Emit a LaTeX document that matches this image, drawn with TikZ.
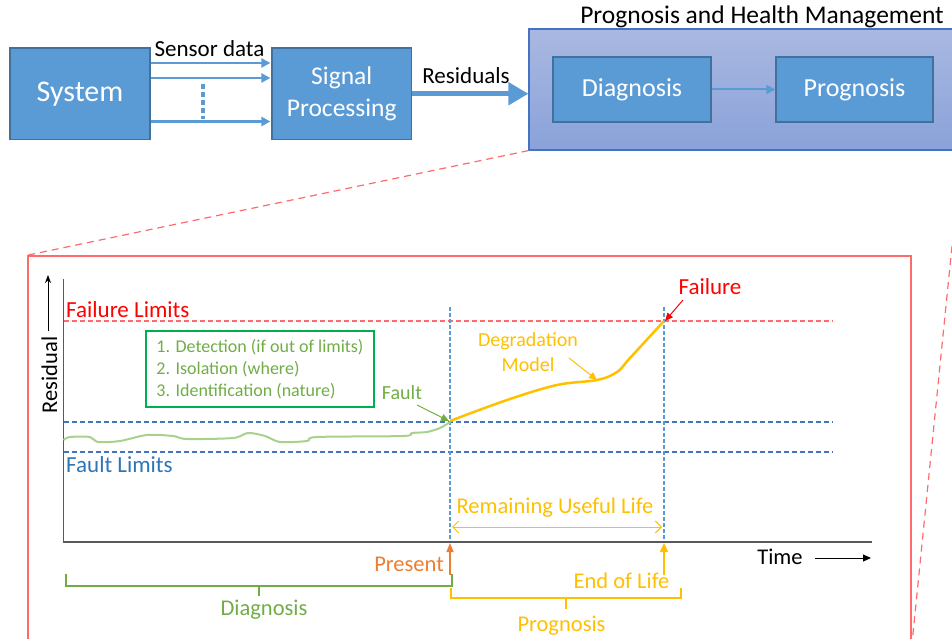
\documentclass[tikz,border=0pt]{standalone}
\usepackage{fontspec}
\setmainfont{Carlito}
\usetikzlibrary{arrows.meta,shadings}
\definecolor{boxfill}{HTML}{5B9BD5}
\definecolor{boxline}{HTML}{41719C}
\definecolor{phmtop}{HTML}{A9B8E1}
\definecolor{phmbot}{HTML}{8AA2D9}
\definecolor{phmline}{HTML}{4472C4}
\definecolor{redline}{HTML}{FF6B6B}
\definecolor{redtxt}{HTML}{FF0000}
\definecolor{grn}{HTML}{70AD47}
\definecolor{grnbox}{HTML}{00B050}
\definecolor{grnline}{HTML}{A9D18E}
\definecolor{yel}{HTML}{FFC000}
\definecolor{org}{HTML}{ED7D31}
\definecolor{bluetxt}{HTML}{2E75B6}
\definecolor{bluedash}{HTML}{4472C4}
\definecolor{axisc}{HTML}{595959}
\newcommand\fsz[2]{\fontsize{#1}{#2}\selectfont}
\tikzset{
  bbox/.style={draw=boxline, fill=boxfill, line width=1.2pt, text=white, inner sep=0pt},
  lbl/.style={inner sep=0pt, font=\fsz{22.5}{27}},
  sarrow/.style={boxfill, line width=2.5pt, -{Triangle[length=9pt,width=9pt]}, shorten >=1pt},
  hdash/.style={line width=1.2pt, dash pattern=on 5pt off 3pt},
  vdash/.style={boxfill, line width=2pt, dash pattern=on 4pt off 2pt},
  thinarrow/.style={line width=1pt, -{Triangle[length=8pt,width=7pt]}},
  bracket/.style={line width=2pt},
}
\begin{document}
\begin{tikzpicture}[x=1pt,y=-1pt]
\useasboundingbox (0,0) rectangle (952,639);

% ---------- top row ----------
\node[bbox, minimum width=140pt, minimum height=91.5pt, font=\fsz{30}{36}] (sys) at (80,93.75) {System};
\node[bbox, minimum width=139.5pt, minimum height=91.5pt, align=center, font=\fsz{25.5}{32}] (sig) at (341.75,93.75) {Signal\\Processing};
\node[lbl, font=\fsz{23}{28}] (sd) at (209.5,49) {Sensor data};
\node[lbl, font=\fsz{23}{28}] (resl) at (466,76) {Residuals};

\coordinate (y1) at (0,63);
\coordinate (y2) at (0,78);
\coordinate (y3) at (0,121.5);
\draw[sarrow] (sys.east |- y1) -- (sig.west |- y1);
\draw[sarrow] (sys.east |- y2) -- (sig.west |- y2);
\draw[sarrow] (sys.east |- y3) -- (sig.west |- y3);
\draw[boxfill, line width=4pt, dash pattern=on 5pt off 3pt] (202.5,84) -- (202.5,119);

\node[draw=phmline, line width=1.2pt, top color=phmtop, bottom color=phmbot, minimum width=432pt, minimum height=121pt, inner sep=0pt] (phm) at (745,89.5) {};
\node[lbl, font=\fsz{25.5}{30}] (title) at (762,17) {Prognosis and Health Management};
\node[bbox, minimum width=158pt, minimum height=65pt, font=\fsz{26}{31}] (diag) at (632,89.5) {Diagnosis};
\node[bbox, minimum width=157pt, minimum height=65pt, font=\fsz{26}{31}] (prog) at (854.5,89.5) {Prognosis};
\draw[boxfill, line width=2pt, -{Triangle[length=9pt,width=9pt]}] (diag) -- (prog);
\draw[boxfill, line width=5pt, -{Triangle[length=20pt,width=22pt]}] (sig.east) -- (sig.east -| phm.west);

% ---------- zoom box ----------
\node[draw=redline, line width=1.5pt, minimum width=883pt, minimum height=389pt, inner sep=0pt] (zb) at (469.5,450.5) {};
\draw[redline, line width=1.2pt, dash pattern=on 7pt off 5pt] (phm.south west) -- (zb.north west);
\draw[redline, line width=1.2pt, dash pattern=on 7pt off 5pt] (phm.south east) -- (zb.south east);

% ---------- plot ----------
\coordinate (O) at (63.5,542);
\coordinate (ytop) at (63.5,279);
\coordinate (xend) at (872,542);

\draw[redline, hdash] (63.5,321) -- (833,321);
\draw[bluedash, hdash] (63.5,422) -- (833,422);
\draw[bluedash, hdash] (63.5,452) -- (833,452);
\draw[vdash] (450,307) -- (450,542);
\draw[vdash] (664,307) -- (664,542);

\draw[axisc, line width=1.5pt] (ytop) -- (O) -- (xend);

\node[lbl, rotate=90] (res) at (49.5,375) {Residual};
\coordinate (rbot) at (48,331);
\coordinate (rtop) at (48,275);
\draw[thinarrow, -{Stealth[length=8pt,width=6pt]}] (rbot) -- (rtop);

\node[lbl, anchor=west, text=redtxt, font=\fsz{23}{28}] (fl) at (66,310) {Failure Limits};
\node[lbl, anchor=west, text=bluetxt, font=\fsz{23}{28}] (fal) at (66,465) {Fault Limits};

\node[draw=grnbox, line width=1.2pt, minimum width=228pt, minimum height=76pt, inner sep=0pt, align=left, text=grn, font=\fsz{18}{22}] (gbox) at (260,369) {1. Detection (if out of limits)\\2. Isolation (where)\\3. Identification (nature)};

\draw[grnline, line width=2pt] plot[smooth, tension=0.5] coordinates {(63.5,440) (70,437) (90,437) (98,442) (120,441) (147,435) (173,436) (187,439) (233,438) (248,433) (265,436) (280,442) (307,441) (317,437) (403,436) (412,433) (427,432) (440,428) (450,422)};
\draw[yel, line width=2.5pt] plot[smooth, tension=0.6] coordinates {(450,421) (507,400) (557,385) (597,380) (617,372) (630,358) (664,321)};

\node[lbl, text=grn, font=\fsz{20}{24}] (fault) at (402,393) {Fault};
\coordinate (fs) at (417,405);
\coordinate (fp) at (449,421);
\draw[grn, thinarrow] (fs) -- (fp);

\node[lbl, text=yel, align=center, font=\fsz{20}{25}] (deg) at (528,352.5) {Degradation\\Model};
\coordinate (ds) at (569,358);
\coordinate (dp) at (597,380);
\draw[yel, thinarrow] (ds) -- (dp);

\node[lbl, text=redtxt, font=\fsz{23}{28}] (fail) at (710,287) {Failure};
\coordinate (fas) at (683,300);
\coordinate (fap) at (665,321);
\draw[redtxt, thinarrow] (fas) -- (fap);

\node[lbl, text=yel] (rul) at (555,508) {Remaining Useful Life};
\coordinate (ra) at (452,527);
\coordinate (rb) at (662,527);
\draw[yel, line width=1pt, {Straight Barb[length=6pt,width=12pt]}-{Straight Barb[length=6pt,width=12pt]}] (ra) -- (rb);

\node[lbl] (time) at (780,557) {Time};
\coordinate (ta) at (815,558);
\coordinate (tb) at (871,558);
\draw[thinarrow] (ta) -- (tb);

\node[lbl, text=org] (pres) at (409,564.5) {Present};
\coordinate (pa) at (450,575);
\coordinate (pb) at (450,543);
\draw[org, line width=1.5pt, -{Triangle[length=9pt,width=7pt]}] (pa) -- (pb);

\node[lbl, text=yel] (eol) at (621.5,581) {End of Life};
\coordinate (ea) at (664,575);
\coordinate (eb) at (664,543);
\draw[yel, line width=2pt, -{Triangle[length=9pt,width=8pt]}] (ea) -- (eb);

\draw[grn, bracket] (66,574) -- (66,586) -- (452,586) -- (452,574);
\draw[grn, bracket] (259,586) -- (259,596);
\node[lbl, text=grn] (dg) at (264,610) {Diagnosis};

\draw[yel, bracket] (451,588) -- (451,598) -- (681,598) -- (681,588);
\draw[yel, bracket] (566,598) -- (566,609);
\node[lbl, text=yel] (pg) at (561.5,625.5) {Prognosis};
\end{tikzpicture}
\end{document}
